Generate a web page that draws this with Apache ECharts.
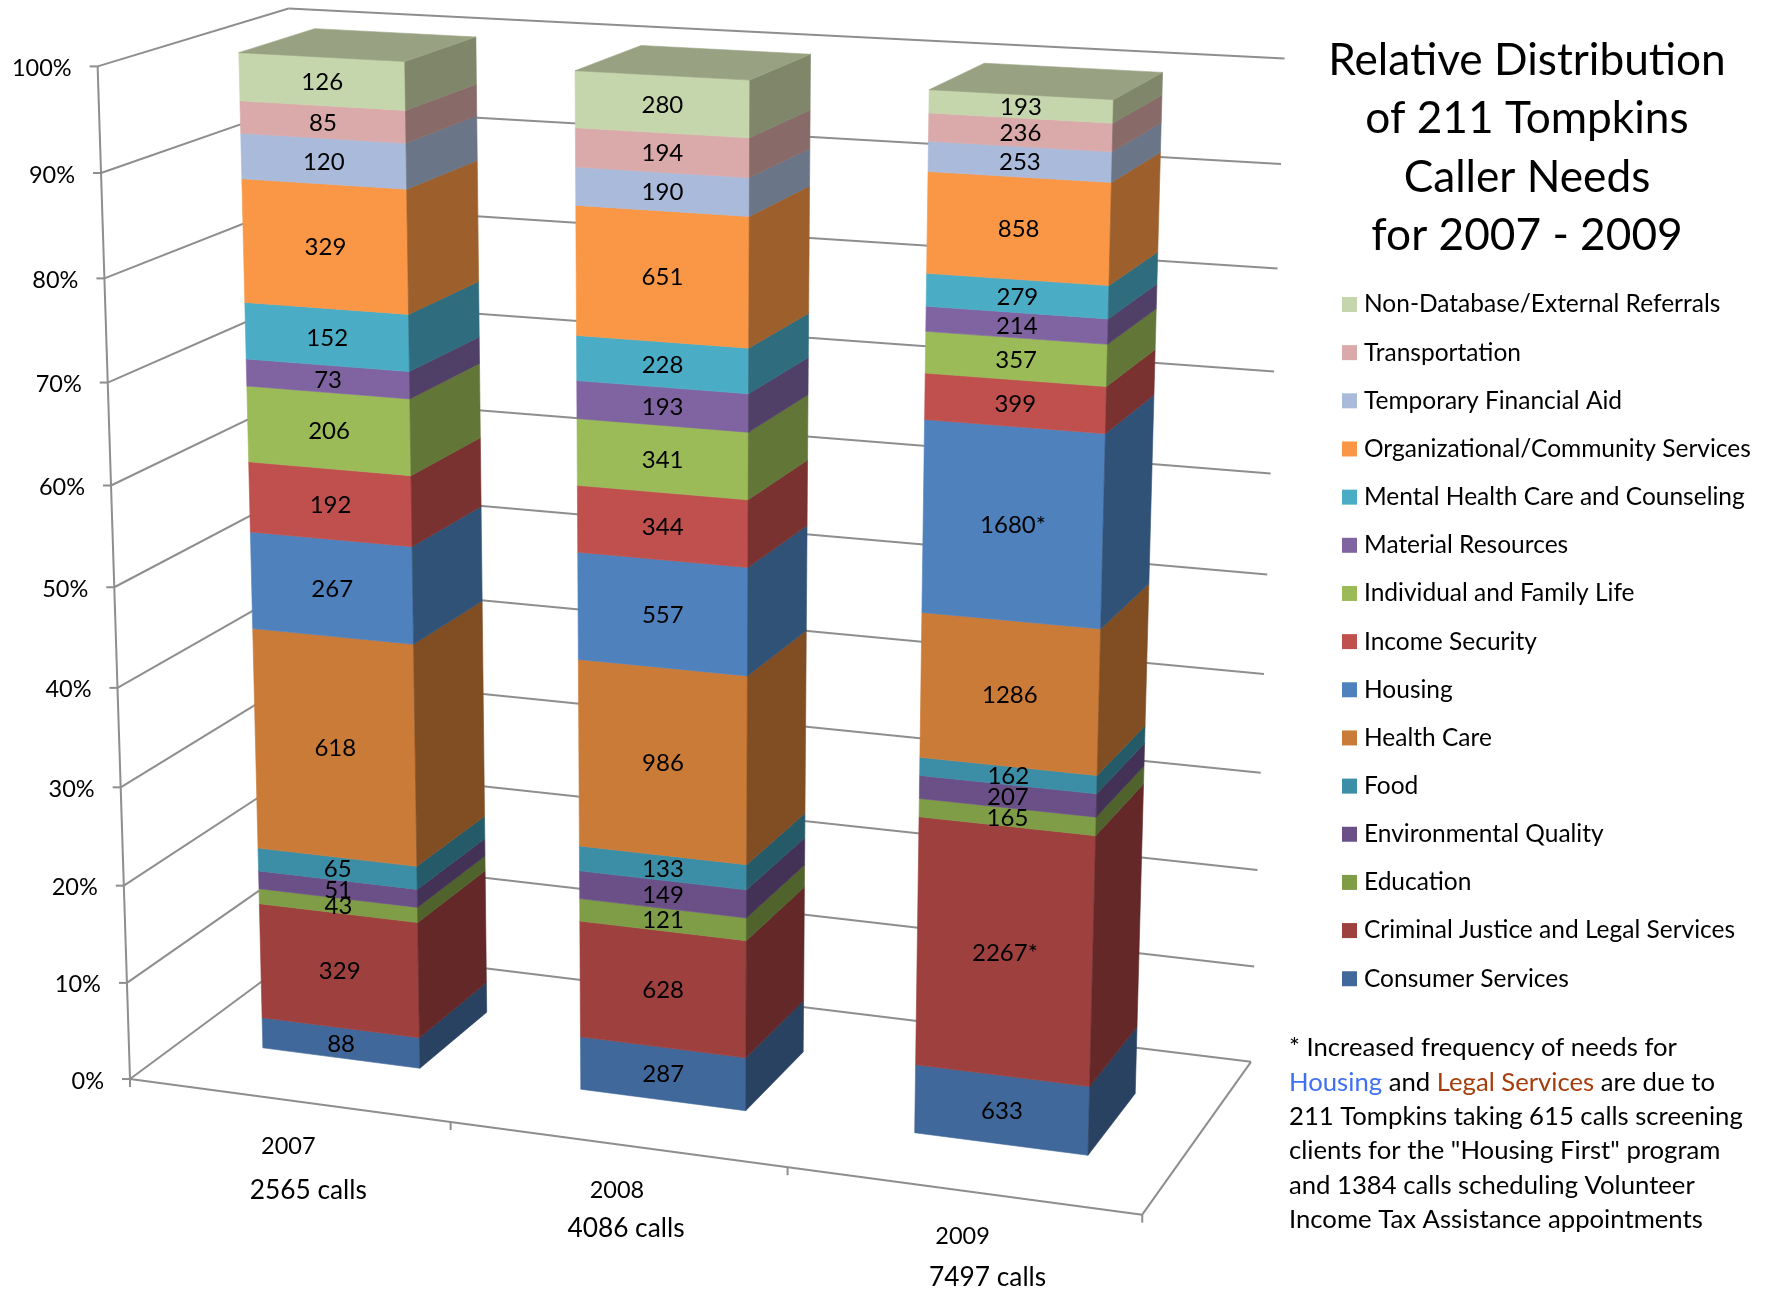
<!DOCTYPE html>
<html>
<head>
<meta charset="utf-8">
<style>html,body{margin:0;padding:0;background:#fff}#chart{width:1767px;height:1293px}</style>
<script src="https://cdn.jsdelivr.net/npm/echarts@6/dist/echarts.min.js"></script>
</head>
<body>
<div id="chart"></div>
<script>
// ---------- data ----------
const years = ['2007', '2008', '2009'];
const callTotals = ['2565 calls', '4086 calls', '7497 calls'];
const valueTicks = [0, 10, 20, 30, 40, 50, 60, 70, 80, 90, 100];

const consumerServices = [88, 287, 633];
const criminalJustice = [329, 628, 2267];
const education = [43, 121, 165];
const environmentalQuality = [51, 149, 207];
const food = [65, 133, 162];
const healthCare = [618, 986, 1286];
const housing = [267, 557, 1680];
const incomeSecurity = [192, 344, 399];
const individualFamily = [206, 341, 357];
const materialResources = [73, 193, 214];
const mentalHealth = [152, 228, 279];
const organizational = [329, 651, 858];
const temporaryAid = [120, 190, 253];
const transportation = [85, 194, 236];
const nonDatabase = [126, 280, 193];

const titleText = 'Relative Distribution\nof 211 Tompkins\nCaller Needs\nfor 2007 - 2009';
const starred = { 'Housing': [2], 'Criminal Justice and Legal Services': [2] };

// bottom-to-top stacking order
const needs = [
  { name: 'Consumer Services', values: consumerServices, front: '#41689A', side: '#294262' },
  { name: 'Criminal Justice and Legal Services', values: criminalJustice, front: '#9D403E', side: '#632827' },
  { name: 'Education', values: education, front: '#7F9D46', side: '#50632C' },
  { name: 'Environmental Quality', values: environmentalQuality, front: '#6B5088', side: '#443256' },
  { name: 'Food', values: food, front: '#3B8EA6', side: '#255A69' },
  { name: 'Health Care', values: healthCare, front: '#CB7B38', side: '#814E24' },
  { name: 'Housing', values: housing, front: '#4F81BD', side: '#315277' },
  { name: 'Income Security', values: incomeSecurity, front: '#C0504D', side: '#793230' },
  { name: 'Individual and Family Life', values: individualFamily, front: '#9BBB59', side: '#627638' },
  { name: 'Material Resources', values: materialResources, front: '#8064A2', side: '#503F66' },
  { name: 'Mental Health Care and Counseling', values: mentalHealth, front: '#4BACC6', side: '#2F6C7D' },
  { name: 'Organizational/Community Services', values: organizational, front: '#F99746', side: '#9D602C' },
  { name: 'Temporary Financial Aid', values: temporaryAid, front: '#AABADA', side: '#6A7588' },
  { name: 'Transportation', values: transportation, front: '#D9AAA9', side: '#886A69' },
  { name: 'Non-Database/External Referrals', values: nonDatabase, front: '#C6D6AC', side: '#7F8669', top: '#98A283' }
];

// ---------- perspective box fitted to the plot's outline ----------
const FONT = 'Lato';
const GRID = '#8E8E8E';
const BAR_Z0 = 0.295, BAR_Z1 = 0.705;
const boxOutline = [
  [0, 0, 0, 130, 1078.7], [0, 1, 0, 96.7, 66.7], [0, 0, 1, 307.6, 948], [0, 1, 1, 290, 8],
  [1, 1, 1, 1285, 58.3], [1, 0, 1, 1251, 1061], [1, 0, 0, 1141.7, 1216]
];
const barOutline = [
  [1 / 12, 1, BAR_Z0, 240, 52.3], [3 / 12, 1, BAR_Z0, 405, 61.3], [3 / 12, 1, BAR_Z1, 475, 37.3], [1 / 12, 1, BAR_Z1, 313.3, 29.3],
  [1 / 12, 0, BAR_Z0, 264, 1047.3], [3 / 12, 0, BAR_Z0, 421, 1067.3], [3 / 12, 0, BAR_Z1, 486.7, 1011.7],
  [9 / 12, 1, BAR_Z0, 930, 89.3], [11 / 12, 1, BAR_Z0, 1113.3, 99.3], [11 / 12, 1, BAR_Z1, 1161.7, 73.3], [9 / 12, 1, BAR_Z1, 983.3, 63.3],
  [9 / 12, 0, BAR_Z0, 915.3, 1132.3], [11 / 12, 0, BAR_Z0, 1088.7, 1154.3], [11 / 12, 0, BAR_Z1, 1135, 1094.3]
];
function solveProjection(pts) {
  const rows = [], rhs = [];
  pts.forEach(([X, Y, Z, u, v]) => {
    rows.push([X, Y, Z, 1, 0, 0, 0, 0, -u * X, -u * Y, -u * Z]); rhs.push(u);
    rows.push([0, 0, 0, 0, X, Y, Z, 1, -v * X, -v * Y, -v * Z]); rhs.push(v);
  });
  const n = 11, M = [];
  for (let i = 0; i < n; i++) {
    M.push([]);
    for (let j = 0; j <= n; j++) {
      let s = 0;
      rows.forEach((r, k) => { s += r[i] * (j < n ? r[j] : rhs[k]); });
      M[i].push(s);
    }
  }
  for (let c = 0; c < n; c++) {
    let p = c;
    for (let r = c + 1; r < n; r++) if (Math.abs(M[r][c]) > Math.abs(M[p][c])) p = r;
    [M[c], M[p]] = [M[p], M[c]];
    for (let r = 0; r < n; r++) {
      if (r === c) continue;
      const f = M[r][c] / M[c][c];
      for (let j = c; j <= n; j++) M[r][j] -= f * M[c][j];
    }
  }
  return M.map((r, i) => r[n] / r[i]);
}
const P = solveProjection(boxOutline.concat(boxOutline, barOutline));
function project(X, Y, Z) {
  const w = P[8] * X + P[9] * Y + P[10] * Z + 1;
  return [(P[0] * X + P[1] * Y + P[2] * Z + P[3]) / w, (P[4] * X + P[5] * Y + P[6] * Z + P[7]) / w];
}
// library pixel (from the hidden cartesian axes) -> world position in the box
function toWorld(pt, cs) {
  return [(pt[0] - cs.x) / cs.width, (cs.y + cs.height - pt[1]) / cs.height];
}

const totals = years.map((_, i) => needs.reduce((s, n) => s + n.values[i], 0));
function stackedRows(index) {
  return years.map((_, c) => {
    let below = 0;
    for (let k = 0; k < index; k++) below += needs[k].values[c];
    const v = needs[index].values[c];
    return [c, below / totals[c] * 100, (below + v) / totals[c] * 100, v];
  });
}

function renderSegment(need, isTop) {
  return function (params, api) {
    const cs = params.coordSys;
    const c = api.value(0);
    const half = api.size([1, 0])[0] / 2 / cs.width / 2;
    const [xm, y0] = toWorld(api.coord([c, api.value(1)]), cs);
    const [, y1] = toWorld(api.coord([c, api.value(2)]), cs);
    const xa = xm - half, xb = xm + half;
    const poly = (pts, fill) => ({
      type: 'polygon', shape: { points: pts },
      style: { fill: fill, stroke: fill, lineWidth: 0.6 }
    });
    const children = [
      poly([project(xa, y1, BAR_Z0), project(xb, y1, BAR_Z0), project(xb, y0, BAR_Z0), project(xa, y0, BAR_Z0)], need.front),
      poly([project(xb, y1, BAR_Z0), project(xb, y1, BAR_Z1), project(xb, y0, BAR_Z1), project(xb, y0, BAR_Z0)], need.side)
    ];
    if (isTop) {
      children.push(poly([project(xa, y1, BAR_Z0), project(xb, y1, BAR_Z0), project(xb, y1, BAR_Z1), project(xa, y1, BAR_Z1)], need.top));
    }
    const star = (starred[need.name] || []).includes(c) ? '*' : '';
    const mid = project(xm, (y0 + y1) / 2, BAR_Z0);
    children.push({
      type: 'text', z2: 100,
      style: {
        text: api.value(3) + star, x: mid[0] + 0.5, y: mid[1] + 1,
        fill: '#000', font: '24px ' + FONT, align: 'center', verticalAlign: 'middle'
      }
    });
    return { type: 'group', children: children };
  };
}

const frameSeries = {
  type: 'custom', name: 'frame', silent: true, z: 1, clip: false,
  encode: { x: 0, y: 1 },
  data: valueTicks.map(v => [0, v]),
  renderItem: function (params, api) {
    const cs = params.coordSys;
    const line = (a, b) => ({
      type: 'line', shape: { x1: a[0], y1: a[1], x2: b[0], y2: b[1] },
      style: { stroke: GRID, lineWidth: 2 }
    });
    const v = api.value(1);
    const y = toWorld(api.coord([0, v]), cs)[1];
    const a = project(0, y, 0), b = project(0, y, 1), e = project(1, y, 1);
    const children = [line([a[0] - 8, a[1]], a), line(a, b), line(b, e)];
    children.push({
      type: 'text',
      style: { text: v + '%', x: a[0] - 26, y: a[1] + 2, fill: '#000', font: '23.5px ' + FONT, align: 'right', verticalAlign: 'middle' }
    });
    if (params.dataIndex === 0) {
      children.push(line(project(0, 0, 0), project(0, 1, 0)));
      children.push(line(project(0, 0, 0), project(1, 0, 0)));
      children.push(line(project(1, 0, 0), project(1, 0, 1)));
      [0, 1 / 3, 2 / 3, 1].forEach(t => {
        const p = project(t, 0, 0);
        children.push(line(p, [p[0], p[1] + 8]));
      });
    }
    return { type: 'group', children: children };
  }
};

const callOffsets = [[20, 90], [9, 84.5], [25, 87]];
const labelSeries = {
  type: 'custom', name: 'categories', silent: true, z: 1, clip: false,
  encode: { x: 0, y: 1 },
  data: years.map((_, i) => [i, 0]),
  renderItem: function (params, api) {
    const cs = params.coordSys;
    const c = api.value(0);
    const X = toWorld(api.coord([c, 0]), cs)[0];
    const p = project(X, 0, 0);
    const off = callOffsets[c];
    return {
      type: 'group', children: [
        { type: 'text', style: { text: years[c], x: p[0], y: p[1] + 46, fill: '#000', font: '23.5px ' + FONT, align: 'center', verticalAlign: 'middle' } },
        { type: 'text', style: { text: callTotals[c], x: p[0] + off[0], y: p[1] + off[1], fill: '#000', font: '26.3px ' + FONT, align: 'center', verticalAlign: 'middle' } }
      ]
    };
  }
};

const chart = echarts.init(document.getElementById('chart'), null, { renderer: 'canvas', width: 1767, height: 1293 });
chart.setOption({
  animation: false,
  backgroundColor: '#fff',
  title: {
    text: titleText, left: 1522, top: 26, textAlign: 'center',
    textStyle: { fontFamily: FONT, fontWeight: 'normal', fontSize: 44.2, lineHeight: 58.6, color: '#000' }
  },
  legend: {
    orient: 'vertical', left: 1342, top: 292, padding: 0,
    itemWidth: 15, itemHeight: 15, itemGap: 23.16, icon: 'rect',
    data: needs.map(n => n.name).reverse(),
    textStyle: { fontFamily: FONT, fontSize: 24.5, lineHeight: 24, color: '#000', padding: [0, 0, 0, 2] },
    selectedMode: false
  },
  grid: { left: 100, top: 100, width: 1000, height: 1000, show: false },
  xAxis: { type: 'category', data: years, show: false },
  yAxis: { type: 'value', min: 0, max: 100, interval: 10, show: false },
  series: [frameSeries, labelSeries].concat(needs.map((n, i) => ({
    type: 'custom', name: n.name, silent: true, z: 2, clip: false,
    itemStyle: { color: n.front },
    encode: { x: 0, y: [1, 2] },
    data: stackedRows(i),
    renderItem: renderSegment(n, i === needs.length - 1)
  }))),
  graphic: [{
    type: 'text', left: 1289, top: 1035,
    style: {
      text: '{a|* Increased frequency of needs for}\n{h|Housing}{a| and }{l|Legal Services}{a| are due to}\n{a|211 Tompkins taking 615 calls screening}\n{a|clients for the "Housing First" program}\n{a|and 1384 calls scheduling Volunteer}\n{a|Income Tax Assistance appointments}',
      font: '25.7px ' + FONT,
      rich: {
        a: { fill: '#000', font: '25.7px ' + FONT, lineHeight: 34.4 },
        h: { fill: '#3F6FF2', font: '25.7px ' + FONT, lineHeight: 34.4 },
        l: { fill: '#A63D0C', font: '25.7px ' + FONT, lineHeight: 34.4 }
      }
    }
  }]
});
</script>
</body>
</html>
